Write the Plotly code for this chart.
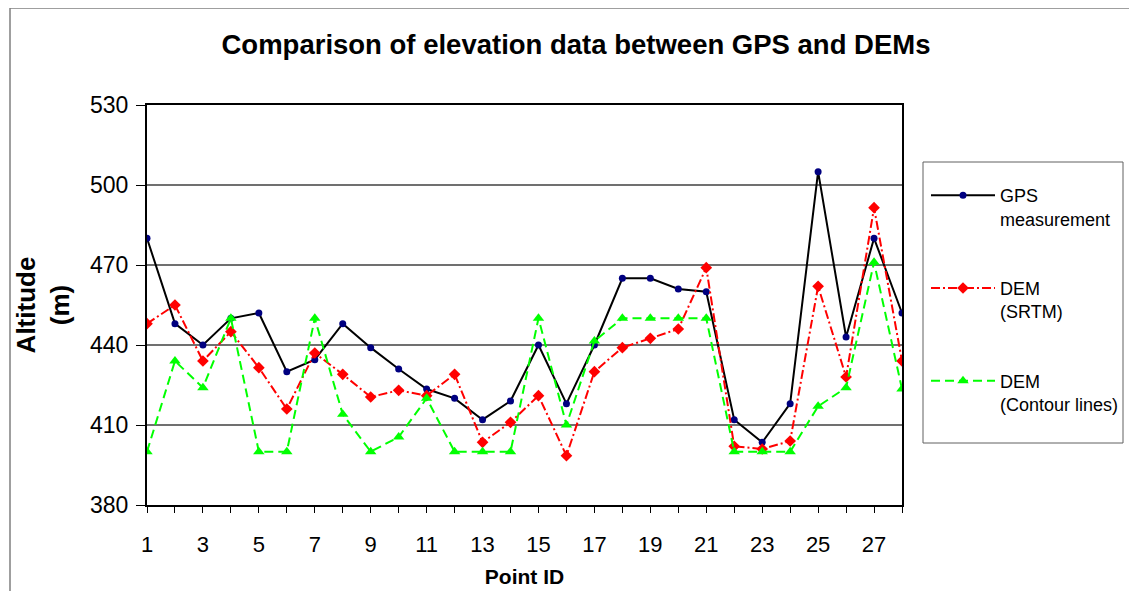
import plotly.graph_objects as go

point_ids = list(range(1, 29))
gps = [480, 448, 440, 450, 452, 430, 434.5, 448, 439, 431, 423.5, 420, 412, 419, 440, 418, 440,
       465, 465, 461, 460, 412, 403.5, 418, 505, 443, 480, 452]
srtm = [448, 455, 434, 445, 431.5, 416, 437, 429, 420.5, 423, 421, 429, 403.5, 411, 421, 398.5, 430,
        439, 442.5, 446, 469, 402, 401, 404, 462, 428, 491.5, 434]
contour = [400, 434, 424, 450, 400, 400, 450, 414, 400, 405.5, 420, 400, 400, 400, 450, 410, 441.5,
           450, 450, 450, 450, 400, 400, 400, 417, 424, 471, 423.5]
names = ["GPS<br>measurement", "DEM<br>(SRTM)", "DEM<br>(Contour lines)"]

FONT = "Liberation Sans, Arial, sans-serif"

fig = go.Figure()
fig.add_trace(go.Scatter(x=point_ids, y=gps, name=names[0], legendgroup="a", mode="lines+markers",
                         line=dict(color="black", width=2),
                         marker=dict(symbol="circle", size=7, color="#000080")))
fig.add_trace(go.Scatter(x=point_ids, y=srtm, name=names[1], legendgroup="b", mode="lines+markers",
                         line=dict(color="#FF0000", width=2, dash="9px,3px,2px,3px"),
                         marker=dict(symbol="diamond", size=9, color="#FF0000")))
fig.add_trace(go.Scatter(x=point_ids, y=contour, name=names[2], legendgroup="c", mode="lines+markers",
                         line=dict(color="#00FF00", width=2, dash="9px,5px"),
                         marker=dict(symbol="triangle-up", size=10, color="#00FF00")))

# page body has an 8px margin; target pixel coords below are in window space
OFF = 8
W, H = 1137 - OFF, 591 - OFF
L, T = 147 - OFF, 105 - OFF
pw, ph = 755, 400
R = W - L - pw
B = H - T - ph

def px2x(p):
    return (p - OFF - L) / pw

def py2y(p):
    return (T + ph - (p - OFF)) / ph

shapes = [
    # outer chart border
    dict(type="rect", xref="paper", yref="paper", x0=px2x(10), x1=px2x(1132), y0=py2y(640), y1=py2y(8),
         line=dict(color="#808080", width=1.5), fillcolor="rgba(0,0,0,0)", layer="below"),
    # legend box
    dict(type="rect", xref="paper", yref="paper", x0=px2x(923), x1=px2x(1123), y0=py2y(443), y1=py2y(162),
         line=dict(color="#606060", width=1), fillcolor="rgba(0,0,0,0)"),
]

fig.update_layout(
    width=W, height=H,
    margin=dict(l=L, r=R, t=T, b=B, autoexpand=False),
    paper_bgcolor="white", plot_bgcolor="white",
    font=dict(family=FONT, color="black"),
    title=dict(text="<b>Comparison of elevation data between GPS and DEMs</b>",
               font=dict(size=27.5, family=FONT, color="black"),
               x=(576 - OFF) / W, xanchor="center", y=1 - (44 - OFF) / H, yanchor="middle", yref="container"),
    shapes=shapes,
    showlegend=True,
    legend=dict(x=px2x(926), xanchor="left", y=py2y(177), yanchor="top",
                font=dict(size=18, family=FONT, color="black"),
                bgcolor="rgba(0,0,0,0)", borderwidth=0, valign="top",
                tracegroupgap=43, itemwidth=64),
    xaxis=dict(range=[1, 28], tick0=1, dtick=2, showgrid=False, zeroline=False,
               ticks="outside", ticklen=6, tickcolor="black", tickwidth=1,
               showline=True, linecolor="black", linewidth=2, mirror=True,
               tickfont=dict(size=22, family=FONT, color="black"), ticklabelstandoff=13,
               minor=dict(dtick=1, tick0=1, ticks="outside", ticklen=6, tickcolor="black", showgrid=False),
               title=dict(text="<b>Point ID</b>", font=dict(size=21, family=FONT, color="black"), standoff=13)),
    yaxis=dict(range=[380, 530], dtick=30, tick0=380, showgrid=True, gridcolor="#707070", gridwidth=1.5,
               zeroline=False, ticks="outside", ticklen=9, tickcolor="black", tickwidth=1,
               showline=True, linecolor="black", linewidth=2, mirror=True,
               tickfont=dict(size=23, family=FONT, color="black"), ticklabelstandoff=3,
               title=dict(text="<b>Altitude<br>(m)</b>", font=dict(size=26, family=FONT, color="black"), standoff=13)),
)

fig.write_html("out.html")
